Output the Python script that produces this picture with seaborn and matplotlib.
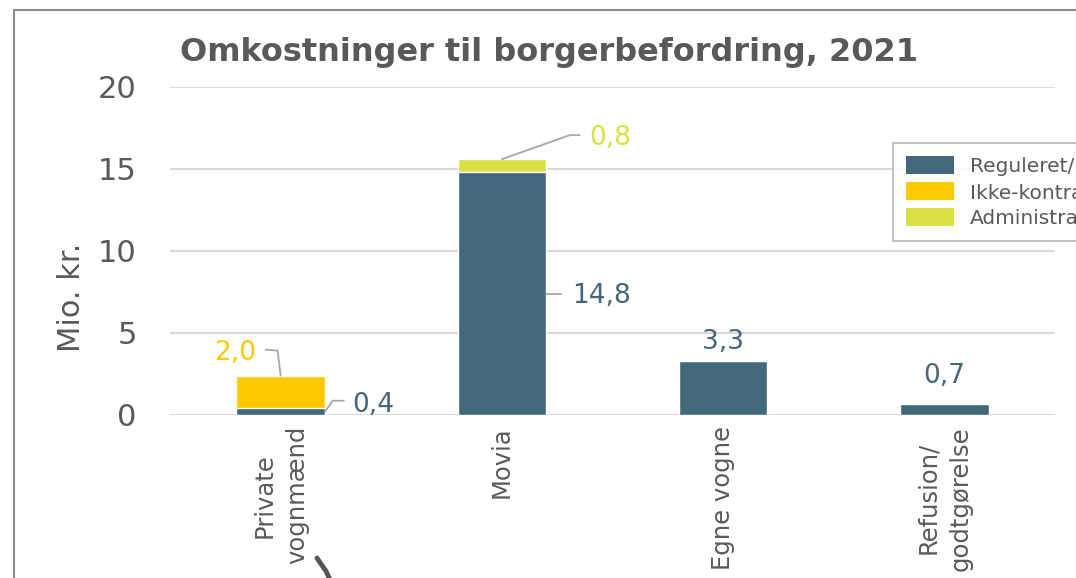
import numpy as np
import pandas as pd
import matplotlib
matplotlib.use("Agg")
import matplotlib.pyplot as plt
from matplotlib.patches import Patch, Rectangle
from matplotlib.lines import Line2D
import seaborn as sns

# data
categories = ["Private\nvognmænd", "Movia", "Egne vogne", "Refusion/\ngodtgørelse"]
series = ["Reguleret/kontraheret kørsel", "Ikke-kontraheret kørsel", "Administration"]
reguleret = [0.4, 14.8, 3.3, 0.7]
ikke_kontraheret = [2.0, 0.0, 0.0, 0.0]
administration = [0.0, 0.8, 0.0, 0.0]
y_ticks = [0, 5, 10, 15, 20]

colors = ["#44687B", "#FFC800", "#D8E141"]
grey_txt = "#595959"
leader_col = "#A6A6A6"

df = pd.DataFrame({"kategori": categories, "reg": reguleret,
                   "ikke": ikke_kontraheret, "adm": administration})
df["cum_ikke"] = df["reg"] + df["ikke"]
df["cum_adm"] = df["cum_ikke"] + df["adm"]

sns.set_theme(style="white")
plt.rcParams["font.family"] = ["DejaVu Sans"]

fig = plt.figure(figsize=(10.76, 5.78), dpi=100)
ax = fig.add_axes([170 / 1076, 1 - 415 / 578, 885 / 1076, 328 / 578])

# stacked look: draw cumulative totals back to front
sns.barplot(data=df, x="kategori", y="cum_adm", color=colors[2], width=0.4,
            saturation=1, ax=ax, zorder=3)
sns.barplot(data=df, x="kategori", y="cum_ikke", color=colors[1], width=0.4,
            saturation=1, ax=ax, zorder=3)
sns.barplot(data=df, x="kategori", y="reg", color=colors[0], width=0.4,
            saturation=1, ax=ax, zorder=3)

ax.set_xlim(-0.5, 3.5)
ax.set_ylim(0, 20)
ax.set_yticks(y_ticks)
ax.yaxis.grid(True, color="#D9D9D9", lw=1.5, zorder=0)
ax.set_axisbelow(True)
for s in ax.spines.values():
    s.set_visible(False)
ax.set_xlabel("")
ax.set_ylabel("")
ax.tick_params(axis="y", length=0, pad=24, labelsize=22, labelcolor=grey_txt)
ax.tick_params(axis="x", length=0, pad=8, labelsize=17.5, labelcolor=grey_txt)
for lab in ax.get_xticklabels():
    lab.set_rotation(90)
    lab.set_ha("center")
    lab.set_va("top")
    lab.set_multialignment("center")
    lab.set_linespacing(1.45)


def leader(x, y, pts):
    # bent leader line, given as pixel offsets from a data anchor
    base = ax.transData.transform((x, y))
    disp = np.array([base + np.array(p) for p in pts])
    data_pts = ax.transData.inverted().transform(disp)
    ax.plot(data_pts[:, 0], data_pts[:, 1], color=leader_col, lw=1.3,
            zorder=4, clip_on=False)


def label(x, y, dx, dy, val, col, ha="center"):
    ax.annotate(f"{val:.1f}".replace(".", ","), xy=(x, y), xytext=(dx * 0.72, dy * 0.72),
                textcoords="offset points", ha=ha, va="center", fontsize=19,
                color=col, annotation_clip=False)


bw = 0.4
# Private vognmænd
leader(0, df["cum_ikke"][0], [(0, 0), (-3, 25), (-15, 26)])
label(0, df["cum_ikke"][0], -45, 23, ikke_kontraheret[0], colors[1])
leader(bw / 2, reguleret[0] / 2, [(0, 0), (8, 11), (19, 11)])
label(bw / 2, reguleret[0] / 2, 27, 7, reguleret[0], colors[0], ha="left")
# Movia
leader(1, df["cum_adm"][1], [(0, 0), (68, 24), (78, 24)])
label(1, df["cum_adm"][1], 87, 21, administration[1], colors[2], ha="left")
leader(1 + bw / 2, reguleret[1] / 2, [(0, 0), (15, 0)])
label(1 + bw / 2, reguleret[1] / 2, 26, -2, reguleret[1], colors[0], ha="left")
# Egne vogne, Refusion
label(2, reguleret[2], 0, 19, reguleret[2], colors[0])
label(3, reguleret[3], 0, 28, reguleret[3], colors[0])

# title and axis label
fig.text(180 / 1076, 1 - 52 / 578, "Omkostninger til borgerbefordring, 2021",
         ha="left", va="center", fontsize=23, fontweight="bold", color=grey_txt)
fig.text(72 / 1076, 1 - 297 / 578, "Mio. kr.", rotation=90, ha="center",
         va="center", fontsize=22, color=grey_txt)

# legend (runs off the right edge like the reference)
handles = [Patch(facecolor=c, edgecolor="none") for c in colors]
leg = fig.legend(handles, series, loc="upper left",
                 bbox_to_anchor=(893 / 1076, 1 - 143 / 578),
                 fontsize=14.5, frameon=True, fancybox=False, borderpad=0.65,
                 handlelength=2.4, handleheight=1.0, labelspacing=0.3,
                 handletextpad=0.75, borderaxespad=0)
leg.get_frame().set_edgecolor("#A6A6A6")
leg.get_frame().set_linewidth(1.2)
for t in leg.get_texts():
    t.set_color(grey_txt)

# outer chart frame
fig.patches.append(Rectangle((14 / 1076, -0.2), 1.2, 1.2 - 10 / 578,
                             transform=fig.transFigure, fill=False,
                             edgecolor="#8C8C8C", lw=1.5))
# small dark stroke at the bottom edge of the screenshot
fig.lines.append(Line2D([317 / 1076, 321 / 1076, 326 / 1076, 330 / 1076],
                        [1 - 558 / 578, 1 - 564 / 578, 1 - 571 / 578, 1 - 580 / 578],
                        transform=fig.transFigure, color="#555555", lw=3.5,
                        solid_capstyle="round"))

fig.savefig("out.png", dpi=100)
